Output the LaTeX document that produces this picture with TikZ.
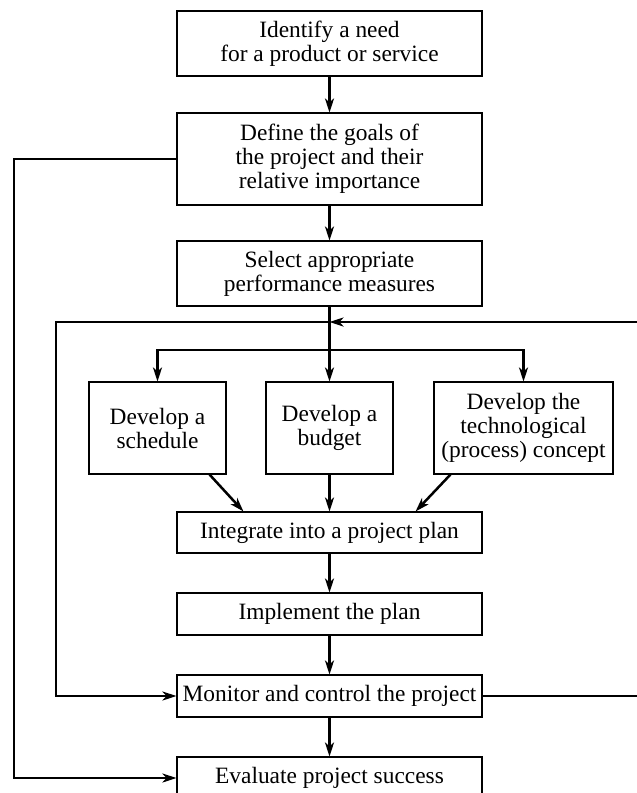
\documentclass[tikz,border=0pt]{standalone}
\usepackage{fontspec}
\setmainfont{Liberation Serif}
\usetikzlibrary{arrows.meta,calc}

\tikzset{
  box/.style={draw, line width=1.1pt, inner sep=0pt, align=center,
              font=\fontsize{23.4}{24}\selectfont},
  mainbox/.style={box, minimum width=305pt},
  conn/.style={line width=2.5pt},
  arr/.style={conn, -{Stealth[length=14pt,width=9pt,inset=4pt]}},
}

\begin{document}
\begin{tikzpicture}[x=1pt,y=-1pt]
  \useasboundingbox (0,0) rectangle (637,793);
  \clip (0,0) rectangle (637,793);

  % main column
  \node[mainbox, minimum height=65pt] (need) at (329.5,43.5)
    {Identify a need\\for a product or service};
  \node[mainbox, minimum height=92pt] (goals) at (329.5,159)
    {Define the goals of\\the project and their\\relative importance};
  \node[mainbox, minimum height=65pt] (measures) at (329.5,273.5)
    {Select appropriate\\performance measures};

  % parallel development tasks
  \node[box, minimum width=137pt, minimum height=92pt] (sched) at (157.5,428)
    {Develop a\\schedule};
  \node[box, minimum width=127pt, minimum height=92pt] (budget) at (329.5,428)
    {Develop a\\budget};
  \node[box, minimum width=179pt, minimum height=92pt] (tech) at (523.5,428)
    {Develop the\\technological\\(process) concept};

  \node[mainbox, minimum height=41pt] (integ) at (329.5,532.5)
    {Integrate into a project plan};
  \node[mainbox, minimum height=42pt] (impl) at (329.5,614)
    {Implement the plan};
  \node[mainbox, minimum height=42pt] (mon) at (329.5,696)
    {Monitor and control the project};
  \node[mainbox, minimum height=42pt] (eval) at (329.5,778)
    {Evaluate project success};

  % helper points
  \coordinate (br) at (329.5,350);
  \coordinate (fbJ) at (329.5,322);
  \coordinate (fbL) at (56,322);
  \coordinate (fbR) at (650,322);
  \coordinate (outer) at (14,159);

  % straight flow
  \draw[arr] (need) -- (goals);
  \draw[arr] (goals) -- (measures);
  \draw[conn] (measures.south) -- (br);
  \draw[arr] (br) -- (budget.north);
  \draw[arr] (br) -| (sched.north);
  \draw[arr] (br) -| (tech.north);

  % merge into the plan
  \draw[arr] ($(sched.south east)+(-17,0)$) -- ($(integ.north west)+(67,0)$);
  \draw[arr] (budget.south) -- (integ.north);
  \draw[arr] ($(tech.south west)+(17,0)$) -- ($(integ.north east)+(-67,0)$);

  \draw[arr] (integ) -- (impl);
  \draw[arr] (impl) -- (mon);
  \draw[arr] (mon) -- (eval);

  % control loop
  \draw[arr] (mon.east) -- (mon.east -| fbR) -- (fbR) -- (fbJ);
  \draw[arr] (fbJ) -- (fbL) |- (mon.west);

  % goals to evaluation
  \draw[arr] (goals.west) -- (outer) |- (eval.west);
\end{tikzpicture}
\end{document}
